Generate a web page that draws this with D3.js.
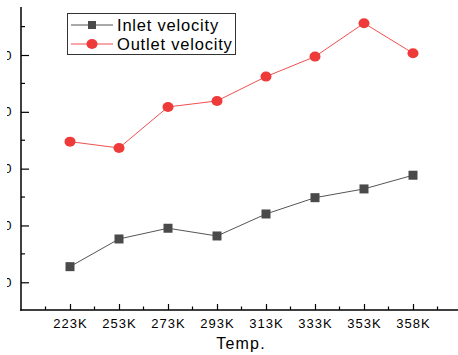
<!DOCTYPE html>
<html>
<head>
<meta charset="utf-8">
<script src="https://cdn.jsdelivr.net/npm/d3@7"></script>
<style>
  html, body { margin: 0; padding: 0; background: #fff; }
  svg { display: block; font-family: 'Liberation Sans', Arial, sans-serif; }
</style>
</head>
<body>
<div id="chart"></div>
<script>
'use strict';

var categories = ['223K', '253K', '273K', '293K', '313K', '333K', '353K', '358K'];
var inletVelocity = [12.75, 17.62, 19.51, 18.15, 22.02, 24.89, 26.43, 28.84];
var outletVelocity = [34.75, 33.64, 40.86, 41.92, 46.20, 49.72, 55.60, 50.32];
var yTicks = [10, 20, 30, 40, 50];

var w = 458, h = 355;
var plotLeft = 21, plotBottom = 310, plotTop = 7;

var svg = d3.select('#chart').append('svg').attr('width', w).attr('height', h);

var x = d3.scalePoint().domain(categories).range([70, 413]);
var step = x.step();
var y = d3.scaleLinear().domain([5.12, 58.45]).range([plotBottom, plotTop]);

// the y labels are cut off at the left in the original picture
svg.append('clipPath').attr('id', 'ylab')
    .append('rect').attr('x', 7).attr('y', 0).attr('width', 14).attr('height', h);

// ── Axes ──
var yAxis = d3.axisLeft(y).tickValues(yTicks).tickSize(-8).tickFormat('');
var gy = svg.append('g').attr('transform', 'translate(' + plotLeft + ',0)').call(yAxis);
gy.select('.domain').remove();
gy.selectAll('.tick line').attr('stroke', '#000').attr('stroke-width', 1.2);

svg.append('g').attr('clip-path', 'url(#ylab)').selectAll('text').data(yTicks).enter().append('text')
    .attr('x', 11.5).attr('y', function(d) { return y(d); }).attr('dy', '0.35em')
    .attr('text-anchor', 'end').style('font-size', '13px').text(function(d) { return d; });

// minor y ticks
var yMinor = yTicks.map(function(t) { return t + 5; }).concat([yTicks[0] - 5]).filter(function(t) { return y(t) >= plotTop && y(t) <= plotBottom; });
svg.append('g').selectAll('line').data(yMinor).enter().append('line')
    .attr('x1', plotLeft).attr('x2', plotLeft + 4)
    .attr('y1', function(d) { return y(d); }).attr('y2', function(d) { return y(d); })
    .attr('stroke', '#000').attr('stroke-width', 1.2);

var xAxis = d3.axisBottom(x).tickSize(-6).tickPadding(9);
var gx = svg.append('g').attr('transform', 'translate(0,' + plotBottom + ')').call(xAxis);
gx.select('.domain').remove();
gx.selectAll('.tick line').attr('stroke', '#000').attr('stroke-width', 1.2);
gx.selectAll('.tick text').style('font-size', '13px').style('letter-spacing', '1px').attr('fill', '#000');

// minor x ticks
var xMinor = [x(categories[0]) - step / 2].concat(categories.map(function(c) { return x(c) + step / 2; }));
svg.append('g').selectAll('line').data(xMinor).enter().append('line')
    .attr('x1', function(d) { return d; }).attr('x2', function(d) { return d; })
    .attr('y1', plotBottom).attr('y2', plotBottom - 3.5)
    .attr('stroke', '#000').attr('stroke-width', 1.2);

// axis lines
svg.append('line').attr('x1', plotLeft).attr('x2', plotLeft).attr('y1', plotTop).attr('y2', plotBottom + 0.75)
    .attr('stroke', '#000').attr('stroke-width', 1.5);
svg.append('line').attr('x1', plotLeft - 0.75).attr('x2', w).attr('y1', plotBottom).attr('y2', plotBottom)
    .attr('stroke', '#000').attr('stroke-width', 1.5);

svg.append('text').attr('x', 241).attr('y', 349).attr('text-anchor', 'middle')
    .style('font-size', '16px').style('letter-spacing', '1.2px').text('Temp.');

// ── Series ──
var lineFn = function(vals) {
    return d3.line().x(function(d, i) { return x(categories[i]); }).y(function(d) { return y(d); })(vals);
};

var inletColor = '#4a4a4a', inletLine = '#555555';
var outletColor = '#ef3a3a', outletLine = '#f05050';

svg.append('path').attr('d', lineFn(inletVelocity)).attr('fill', 'none')
    .attr('stroke', inletLine).attr('stroke-width', 1);
svg.append('g').selectAll('rect').data(inletVelocity).enter().append('rect')
    .attr('x', function(d, i) { return x(categories[i]) - 4.5; })
    .attr('y', function(d) { return y(d) - 4.5; })
    .attr('width', 9).attr('height', 9).attr('fill', inletColor);

svg.append('path').attr('d', lineFn(outletVelocity)).attr('fill', 'none')
    .attr('stroke', outletLine).attr('stroke-width', 1);
svg.append('g').selectAll('ellipse').data(outletVelocity).enter().append('ellipse')
    .attr('cx', function(d, i) { return x(categories[i]); })
    .attr('cy', function(d) { return y(d); })
    .attr('rx', 5.5).attr('ry', 5).attr('fill', outletColor);

// ── Legend ──
var lg = svg.append('g');
lg.append('rect').attr('x', 67.5).attr('y', 13.5).attr('width', 168).attr('height', 41)
    .attr('fill', '#fff').attr('stroke', '#333').attr('stroke-width', 1);
var legendItems = [
    {label: 'Inlet velocity', line: inletLine, color: inletColor, shape: 'square', yy: 25},
    {label: 'Outlet velocity', line: outletLine, color: outletColor, shape: 'circle', yy: 44}
];
legendItems.forEach(function(it) {
    lg.append('line').attr('x1', 71).attr('x2', 113).attr('y1', it.yy).attr('y2', it.yy)
        .attr('stroke', it.line).attr('stroke-width', 1);
    if (it.shape === 'square') {
        lg.append('rect').attr('x', 88).attr('y', it.yy - 4).attr('width', 8).attr('height', 8).attr('fill', it.color);
    } else {
        lg.append('ellipse').attr('cx', 92).attr('cy', it.yy).attr('rx', 5.5).attr('ry', 5).attr('fill', it.color);
    }
    lg.append('text').attr('x', 117).attr('y', it.yy + 6).style('font-size', '16.5px')
        .style('letter-spacing', '0.8px').text(it.label);
});
</script>
</body>
</html>
